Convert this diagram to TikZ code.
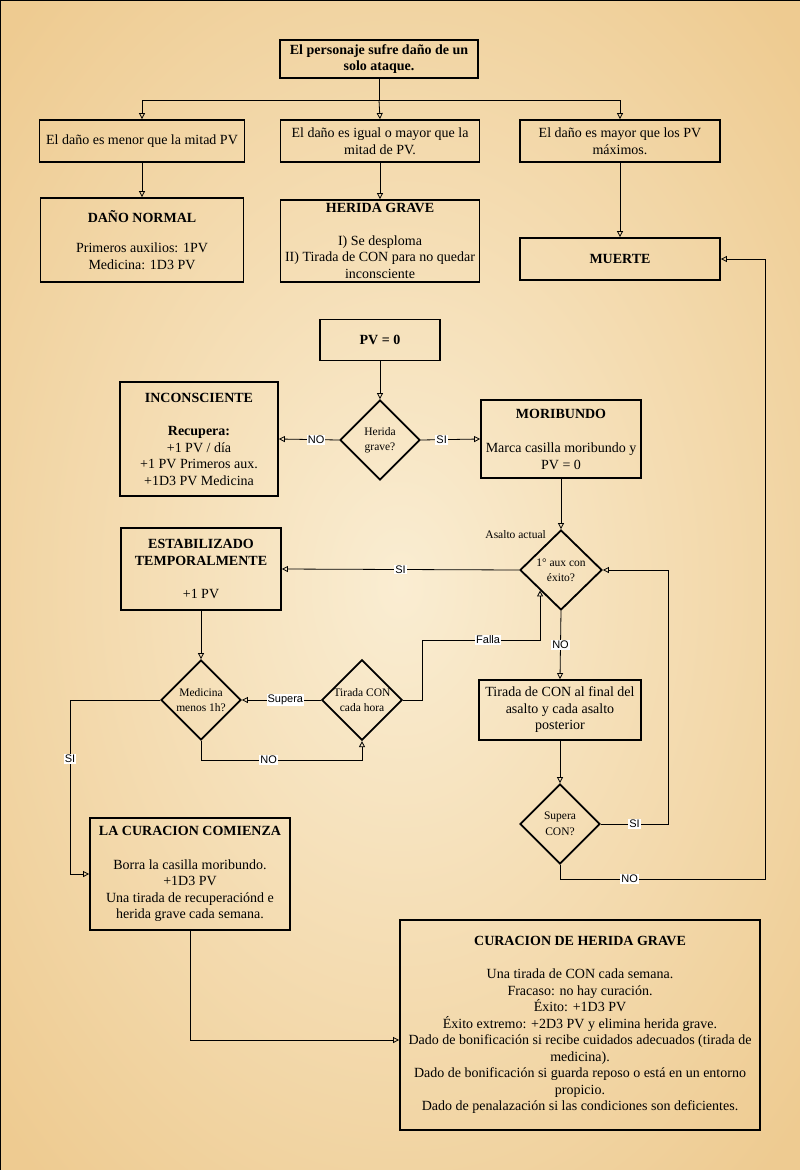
\documentclass[tikz,border=0pt]{standalone}
\usepackage{fontspec}
\setmainfont{Liberation Serif}
\newfontfamily\labelfont{Liberation Sans}
\usepackage{tikz}
\usetikzlibrary{arrows.meta,shapes.geometric}

\definecolor{parchlight}{RGB}{250,237,210}
\definecolor{parchdark}{RGB}{238,203,145}

\newcommand{\boxfont}{\fontsize{14}{16.5}\selectfont}
\newcommand{\smallfont}{\fontsize{11.5}{15.5}\selectfont}

\begin{document}
\begin{tikzpicture}[
  x=1pt, y=-1pt,
  box/.style={draw, line width=1.8pt, align=center, font=\boxfont, inner sep=2pt},
  decision/.style={draw, diamond, aspect=1, line width=1.8pt, align=center, font=\smallfont,
    inner sep=0pt, minimum width=80pt, minimum height=80pt},
  lbl/.style={fill=white, inner sep=1pt, font=\labelfont\fontsize{11}{12}\selectfont},
  note/.style={font=\smallfont, inner sep=1pt},
  arrow/.style={-{Triangle[open,length=6pt,width=6pt]}, line width=0.8pt},
]

% Parchment background.
\path[use as bounding box] (0,0) rectangle (800,1170);
\begin{scope}
\clip (0,0) rectangle (800,1170);
\fill[parchdark] (0,0) rectangle (800,1170);
\shade[inner color=parchlight, outer color=parchdark] (-150,-200) rectangle (950,1370);
\end{scope}
\draw[line width=1pt] (0,0) rectangle (800,1170);

% Damage from one attack.
\node[box, minimum width=198pt, minimum height=38pt, font=\boxfont\bfseries] (attack) at (379,59) {El personaje sufre daño de un\\solo ataque.};

\node[box, minimum width=205pt, minimum height=42pt] (less)  at (142,141) {El daño es menor que la mitad PV};
\node[box, minimum width=199pt, minimum height=42pt] (equal) at (380,141) {El daño es igual o mayor que la\\mitad de PV.};
\node[box, minimum width=200pt, minimum height=42pt] (more)  at (620,141) {El daño es mayor que los PV\\máximos.};

\node[box, minimum width=203pt, minimum height=84pt] (normal) at (142,240) {\textbf{DAÑO NORMAL}\\[14pt]Primeros auxilios: 1PV\\Medicina: 1D3 PV};
\node[box, minimum width=199pt, minimum height=82pt] (grave)  at (380,241) {\textbf{HERIDA GRAVE}\\[16pt]I) Se desploma\\II) Tirada de CON para no quedar\\inconsciente};
\node[box, minimum width=200pt, minimum height=42pt, font=\boxfont\bfseries] (death) at (620,259) {MUERTE};

\coordinate (split) at (379,100);
\draw[arrow] (attack.south) -- (split) -| (less.north);
\draw[arrow] (split) -- (equal.north);
\draw[arrow] (split) -| (more.north);
\draw[arrow] (less) -- (normal);
\draw[arrow] (equal) -- (grave);
\draw[arrow] (more.south) -- (death.north);

% Zero hit points.
\node[box, minimum width=120pt, minimum height=41pt, font=\boxfont\bfseries] (pvzero) at (380,340) {PV = 0};
\node[decision] (graveq) at (380,440) {Herida\\grave?};
\node[box, minimum width=158pt, minimum height=114pt] (uncon) at (199,439) {\textbf{INCONSCIENTE}\\[17pt]\textbf{Recupera:}\\+1 PV / día\\+1 PV Primeros aux.\\+1D3 PV Medicina};
\node[box, minimum width=160pt, minimum height=78pt] (dying) at (561,439) {\textbf{MORIBUNDO}\\[18pt]Marca casilla moribundo y\\PV = 0};

\draw[arrow] (pvzero) -- (graveq);
\draw[arrow] (graveq.west) -- node[lbl, pos=0.38]{NO} (uncon.east);
\draw[arrow] (graveq.east) -- node[lbl, pos=0.35]{SI} (dying.west);

% Dying: first aid, CON rolls.
\node[decision, minimum width=82pt] (aidq) at (561,570) {1° aux con\\éxito?};
\node[note, anchor=east] (round) at (547,535) {Asalto actual};
\node[box, minimum width=160pt, minimum height=82pt] (stable) at (201,569) {\textbf{ESTABILIZADO}\\\textbf{TEMPORALMENTE}\\[17pt]+1 PV};
\node[box, minimum width=162pt, minimum height=60pt] (conend) at (560,710) {Tirada de CON al final del\\asalto y cada asalto\\posterior};
\node[decision] (passq) at (560,824) {Supera\\CON?};

\draw[arrow] (dying.south) -- (aidq.north);
\draw[arrow] (aidq.west) -- node[lbl]{SI} (stable.east);
\draw[arrow] (aidq.south) -- node[lbl]{NO} (conend.north);
\draw[arrow] (conend) -- (passq);

\coordinate (siloop) at (668,824);
\draw[arrow] (passq.east) -- node[lbl]{SI} (siloop) |- (aidq.east);
\coordinate (nodrop) at (560,879);
\coordinate (nocorner) at (765,879);
\draw[arrow] (passq.south) -- (nodrop) -- node[lbl, pos=0.34]{NO} (nocorner) |- (death.east);

% Stabilised: hourly rolls and medicine.
\node[decision] (medq)  at (201,700) {Medicina\\menos 1h?};
\node[decision] (hourq) at (362,700) {Tirada CON\\cada hora};

\draw[arrow] (stable.south) -- (medq.north);
\draw[arrow] (hourq.west) -- node[lbl, pos=0.45]{Supera} (medq.east);
\coordinate (fallc) at (422,640);
\draw[arrow] (hourq.east) -| (fallc) -| node[lbl, pos=0.28]{Falla} (aidq.south west);
\coordinate (medno) at (201,760);
\draw[arrow] (medq.south) -- (medno) -| node[lbl, pos=0.21]{NO} (hourq.south);
\coordinate (medsi) at (70,700);

% Healing.
\node[box, minimum width=200pt, minimum height=112pt] (healing) at (190,874) {\textbf{LA CURACION COMIENZA}\\[17pt]Borra la casilla moribundo.\\+1D3 PV\\Una tirada de recuperaciónd e\\herida grave cada semana.};
\node[box, minimum width=360pt, minimum height=210pt] (woundheal) at (580,1025) {\textbf{CURACION DE HERIDA GRAVE}\\[17pt]Una tirada de CON cada semana.\\Fracaso: no hay curación.\\Éxito: +1D3 PV\\Éxito extremo: +2D3 PV y elimina herida grave.\\Dado de bonificación si recibe cuidados adecuados (tirada de\\medicina).\\Dado de bonificación si guarda reposo o está en un entorno\\propicio.\\Dado de penalazación si las condiciones son deficientes.};

\draw[arrow] (medq.west) -- (medsi) |- node[lbl, pos=0.17]{SI} (healing.west);
\draw[arrow] (healing.south) |- ([yshift=-15pt]woundheal.west);

\end{tikzpicture}
\end{document}
